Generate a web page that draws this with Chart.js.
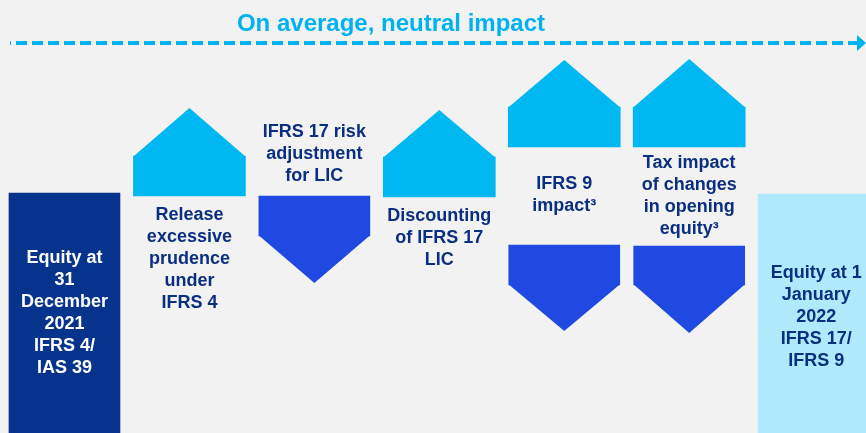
<!DOCTYPE html>
<html>
<head>
<meta charset="utf-8">
<script src="https://cdn.jsdelivr.net/npm/chart.js@4.4.0/dist/chart.umd.min.js"></script>
<style>
  body { margin: 0; background: #f2f2f2; }
  canvas { display: block; }
</style>
</head>
<body>
<canvas id="myChart" width="866" height="433"></canvas>
<script>
// label lines for each step
const categories = [
  ['Equity at', '31', 'December', '2021', 'IFRS 4/', 'IAS 39'],
  ['Release', 'excessive', 'prudence', 'under', 'IFRS 4'],
  ['IFRS 17 risk', 'adjustment', 'for LIC'],
  ['Discounting', 'of IFRS 17', 'LIC'],
  ['IFRS 9', 'impact³'],
  ['Tax impact', 'of changes', 'in opening', 'equity³'],
  ['Equity at 1', 'January', '2022', 'IFRS 17/', 'IFRS 9']
];
const titleText = 'On average, neutral impact';

// equity bars (floating [from, to])
const openingEquity = [[0, 240], null, null, null, null, null, null];
const closingEquity = [null, null, null, null, null, null, [0, 239]];
// positive effects: body + arrow tip
const upBody = [null, [237, 277], null, [236, 276], [286, 326], [286, 326], null];
const upTip  = [null, 325, null, 323, 373, 374, null];
// negative effects: body + arrow tip
const downBody = [null, null, [237, 197], null, [188, 148], [187, 148], null];
const downTip  = [null, null, 150, null, 102, 100, null];

const NAVY = '#06348c';
const TEXT = '#0b2f80';
const CYAN = '#00b8f1';
const BLUE = '#1f49e0';
const LIGHT = '#aeeafc';

function pts(arr) {
  return arr.map((v, i) => v ? { x: i, y: v } : null).filter(p => p);
}
const topOf = b => Math.min(b.y, b.base);
const bottomOf = b => Math.max(b.y, b.base);

// draws the triangle heads on top of the up / down bodies
const arrowHeads = {
  id: 'arrowHeads',
  afterDatasetsDraw(chart) {
    const ctx = chart.ctx, ys = chart.scales.y;
    [[2, upTip], [3, downTip]].forEach(([di, tips]) => {
      const meta = chart.getDatasetMeta(di);
      const data = chart.data.datasets[di].data;
      meta.data.forEach((bar, j) => {
        const tip = ys.getPixelForValue(tips[data[j].x]);
        const half = bar.width / 2;
        const up = tip < topOf(bar);
        const shoulder = up ? topOf(bar) + 0.6 : bottomOf(bar) - 0.6;
        ctx.save();
        ctx.beginPath();
        ctx.moveTo(bar.x - half, shoulder);
        ctx.lineTo(bar.x + half, shoulder);
        ctx.lineTo(bar.x, tip);
        ctx.closePath();
        ctx.fillStyle = bar.options.backgroundColor;
        ctx.fill();
        ctx.restore();
      });
    });
  }
};

// step labels, placed relative to the bars
const stepLabels = {
  id: 'stepLabels',
  afterDatasetsDraw(chart) {
    const ctx = chart.ctx;
    const find = (di, i) => {
      const data = chart.data.datasets[di].data;
      const j = data.findIndex(p => p.x === i);
      return j < 0 ? null : chart.getDatasetMeta(di).data[j];
    };
    const LH = 22;
    ctx.save();
    ctx.font = 'bold 18px "Liberation Sans", Arial, sans-serif';
    ctx.textAlign = 'center';
    ctx.textBaseline = 'alphabetic';
    categories.forEach((lines, i) => {
      const open = find(0, i), close = find(1, i), up = find(2, i), down = find(3, i);
      const n = lines.length;
      let first, x, color = TEXT;
      if (open || close) {
        const b = open || close;
        const yc = (topOf(b) + bottomOf(b)) / 2;
        first = yc - (n - 1) / 2 * LH + 5;
        x = b.x;
        if (open) color = '#ffffff';
        if (close) { x += 2; first += 3; }
      } else if (up && down) {
        const yc = (bottomOf(up) + topOf(down)) / 2;
        first = yc - (n - 1) / 2 * LH + 4;
        x = up.x;
      } else if (up) {
        first = bottomOf(up) + 24;
        x = up.x;
      } else {
        first = topOf(down) - 15 - (n - 1) * LH;
        x = down.x;
      }
      ctx.fillStyle = color;
      lines.forEach((t, k) => ctx.fillText(t, x, first + k * LH));
    });
    ctx.restore();
  }
};

// headline with dashed arrow
const headline = {
  id: 'headline',
  afterDraw(chart) {
    const ctx = chart.ctx, w = chart.width;
    ctx.save();
    ctx.fillStyle = '#00b3f0';
    ctx.font = 'bold 24px "Liberation Sans", Arial, sans-serif';
    ctx.textAlign = 'center';
    ctx.fillText(titleText, 391, 31);
    ctx.strokeStyle = '#00b3f0';
    ctx.lineWidth = 4;
    ctx.setLineDash([11, 5]);
    ctx.lineDashOffset = 10;
    ctx.beginPath();
    ctx.moveTo(10, 43);
    ctx.lineTo(w - 9, 43);
    ctx.stroke();
    ctx.setLineDash([]);
    ctx.beginPath();
    ctx.moveTo(w - 9, 35);
    ctx.lineTo(w, 43);
    ctx.lineTo(w - 9, 51);
    ctx.closePath();
    ctx.fill();
    ctx.restore();
  }
};

new Chart(document.getElementById('myChart'), {
  type: 'bar',
  data: {
    datasets: [
      { label: 'Opening equity', data: pts(openingEquity), backgroundColor: NAVY, barThickness: 111 },
      { label: 'Closing equity', data: pts(closingEquity), backgroundColor: LIGHT, barThickness: 112 },
      { label: 'Positive', data: pts(upBody), backgroundColor: CYAN, barThickness: 112 },
      { label: 'Negative', data: pts(downBody), backgroundColor: BLUE, barThickness: 111 }
    ]
  },
  options: {
    responsive: false,
    animation: false,
    devicePixelRatio: 1,
    layout: { padding: 0 },
    datasets: { bar: { grouped: false, borderWidth: 0 } },
    plugins: { legend: { display: false }, tooltip: { enabled: false } },
    scales: {
      x: { type: 'linear', offset: false, min: -0.516, max: 6.415, display: false, grid: { offset: false } },
      y: { min: 0, max: 433, display: false }
    }
  },
  plugins: [arrowHeads, stepLabels, headline]
});
</script>
</body>
</html>
